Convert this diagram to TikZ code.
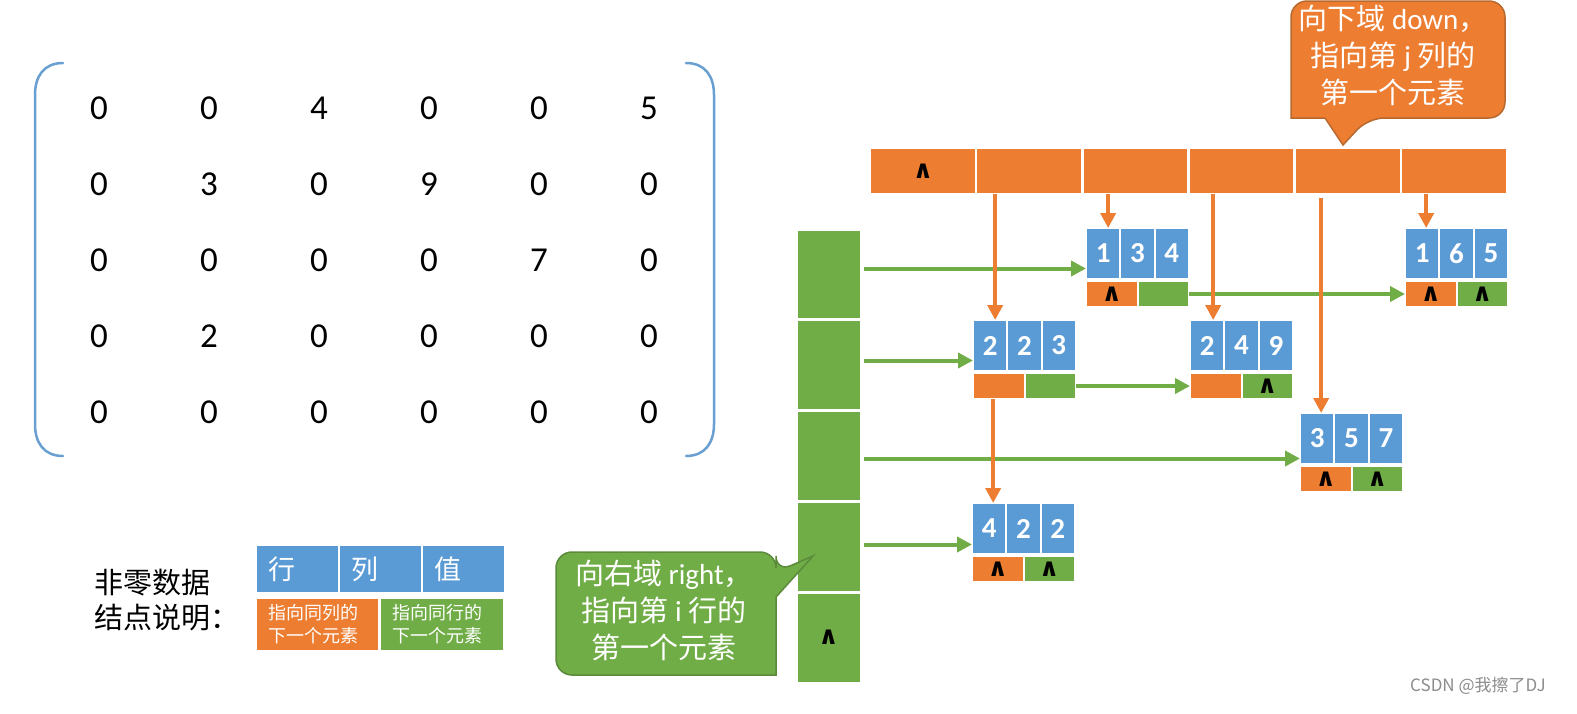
\documentclass[tikz,border=0pt]{standalone}
\usepackage{fontspec}
\setmainfont{Carlito}
\newfontfamily\cjk{Noto Sans CJK SC}
\newfontfamily\symf{DejaVu Sans}
\usetikzlibrary{arrows.meta,calc}
\definecolor{oblue}{HTML}{5B9BD5}
\definecolor{oorange}{HTML}{ED7D31}
\definecolor{ogreen}{HTML}{70AD47}
\definecolor{oodark}{HTML}{B8692F}
\definecolor{ogdark}{HTML}{5A8A3A}
\definecolor{brblue}{HTML}{6A9FD2}
\newcommand\nullmark{{\symf\bfseries\fontsize{25}{25}\selectfont ∧}}
\newcommand\olnode[8]{%
  \node[vcell] (#1-r) at (#2,#3) {#4};
  \node[vcell] (#1-c) at (#2+34.33,#3) {#5};
  \node[vcell] (#1-v) at (#2+68.67,#3) {#6};
  \node[dcell] (#1-d) at (#2,#3+53) {#7};
  \node[rcell] (#1-rt) at (#2+51.5,#3+53) {#8};
}
\tikzset{
  vcell/.style={draw=white, line width=2pt, fill=oblue, minimum width=34.33pt, minimum height=51pt,
    inner sep=0pt, outer sep=0pt, anchor=north west, text=white, font=\fontsize{29}{29}\selectfont\bfseries},
  dcell/.style={draw=white, line width=2pt, fill=oorange, minimum width=51.5pt, minimum height=26pt,
    inner sep=0pt, outer sep=0pt, anchor=north west, text=black},
  rcell/.style={dcell, fill=ogreen},
  hcell/.style={draw=white, line width=2.5pt, fill=oorange, minimum width=106.17pt, minimum height=46pt,
    inner sep=0pt, outer sep=0pt, anchor=north west, text=black},
  gcell/.style={draw=white, line width=3pt, fill=ogreen, minimum width=65pt, minimum height=90.8pt,
    inner sep=0pt, outer sep=0pt, anchor=north west, text=black},
  oarr/.style={draw=oorange, line width=4pt, -{Triangle[length=15pt,width=15pt]}},
  garr/.style={draw=ogreen, line width=4pt, -{Triangle[length=15pt,width=15pt]}},
  mval/.style={font=\fontsize{35}{35}\selectfont, inner sep=0pt},
  bracket/.style={draw=brblue, line width=2.5pt, line cap=round},
  lgtop/.style={draw=white, line width=2pt, fill=oblue, minimum height=48pt, inner xsep=12pt, text width=59pt,
    align=left, outer sep=0pt, anchor=north west, text=white, font=\cjk\fontsize{27}{27}\selectfont},
  lgbot/.style={draw=white, line width=2pt, minimum height=53pt, inner xsep=12pt, text width=99pt,
    align=left, outer sep=0pt, anchor=north west, text=white, font=\cjk\fontsize{18}{23}\selectfont},
  calltext/.style={align=center, text=white, inner sep=0pt, font=\cjk\fontsize{29}{37}\selectfont},
}
\begin{document}
\begin{tikzpicture}[x=1pt,y=-1pt]
\useasboundingbox (0,0) rectangle (1577,713);
\fill[white] (0,0) rectangle (1577,713);

% matrix
\foreach \row [count=\r] in {{0,0,4,0,0,5},{0,3,0,9,0,0},{0,0,0,0,7,0},{0,2,0,0,0,0},{0,0,0,0,0,0}}{
  \foreach \v [count=\c] in \row {
    \node[mval] (m\r\c) at ({99+(\c-1)*110},{108+(\r-1)*76}) {\v};
  }
}
\draw[bracket] (63,63) .. controls (44,63) and (35,76) .. (35,95) -- (35,424) .. controls (35,443) and (44,456) .. (63,456);
\draw[bracket] (686,63) .. controls (705,63) and (714,76) .. (714,95) -- (714,424) .. controls (714,443) and (705,456) .. (686,456);

% header (column heads)
\node[hcell] (h1) at (870,148) {\nullmark};
\foreach \i in {2,...,6} \node[hcell] (h\i) at ({870+(\i-1)*106.17},148) {};

% row heads
\foreach \i in {1,...,4} \node[gcell] (g\i) at (796,{229+(\i-1)*90.8}) {};
\node[gcell] (g5) at (796,{229+4*90.8}) {\nullmark};

% element nodes
\olnode{n134}{1086}{228}{1}{3}{4}{\nullmark}{}
\olnode{n165}{1405}{228}{1}{6}{5}{\nullmark}{\nullmark}
\olnode{n223}{973}{320}{2}{2}{3}{}{}
\olnode{n249}{1190}{320}{2}{4}{9}{}{\nullmark}
\olnode{n357}{1300}{413}{3}{5}{7}{\nullmark}{\nullmark}
\olnode{n422}{972}{503}{4}{2}{2}{\nullmark}{\nullmark}

% green (right) pointers
\coordinate (e134) at ([yshift=-15pt]n134-r.west);
\coordinate (e223) at ([yshift=-15pt]n223-r.west);
\coordinate (e357) at ([yshift=-20pt]n357-r.west);
\coordinate (e422) at ([yshift=-16pt]n422-r.west);
\draw[garr, shorten <=3pt] (g1.east |- e134) -- (e134);
\draw[garr, shorten <=3pt] (g2.east |- e223) -- (e223);
\draw[garr, shorten <=3pt] (g3.east |- e357) -- (e357);
\draw[garr, shorten <=3pt] (g4.east |- e422) -- (e422);
\draw[garr] (n134-rt.east) -- (n134-rt.east -| n165-d.west);
\draw[garr] (n223-rt.east) -- (n223-rt.east -| n249-d.west);

% orange (down) pointers
\coordinate (t223) at ([xshift=5pt]n223-r.north);
\coordinate (t134) at ([xshift=5pt]n134-r.north);
\coordinate (t249) at ([xshift=6pt]n249-r.north);
\coordinate (t357) at ([xshift=4pt]n357-r.north);
\coordinate (t165) at ([xshift=4pt]n165-r.north);
\coordinate (t422) at ([xshift=4pt]n422-r.north);
\draw[oarr] (h2.south -| t223) -- (t223);
\draw[oarr] (h3.south -| t134) -- (t134);
\draw[oarr] (h4.south -| t249) -- (t249);
\draw[oarr, shorten <=4pt] (h5.south -| t357) -- (t357);
\draw[oarr] (h6.south -| t165) -- (t165);
\draw[oarr] (n223-d.south -| t422) -- (t422);

% callout: down
\path[fill=oorange, draw=oodark, line width=1.5pt]
  (1398,1) [rounded corners=16pt] -- (1505,1) -- (1505,118) -- (1368,118) [sharp corners] -- (1343,145)
  -- (1325,118) -- (1291,118) [rounded corners=16pt] -- (1291,1) -- cycle;
\node[calltext] (cdown) at (1393,55) {向下域 {\rmfamily down}，\\指向第 {\rmfamily j} 列的\\第一个元素};

% callout: right
\path[fill=ogreen, draw=ogdark, line width=1.5pt]
  (666,552) [rounded corners=16pt] -- (776,552) -- (776,572) [sharp corners] -- (813,556) -- (776,597)
  -- (776,675) [rounded corners=16pt] -- (556,675) -- (556,552) -- cycle;
\node[calltext] (cright) at (664,610) {向右域 {\rmfamily right}，\\指向第 {\rmfamily i} 行的\\第一个元素};

% legend
\node[anchor=west, align=left, inner sep=0pt, font=\cjk\fontsize{29}{35}\selectfont] (lgl) at (94,600) {非零数据\\结点说明：};
\node[lgtop] (lg1) at (256,545) {行};
\node[lgtop] (lg2) at (339,545) {列};
\node[lgtop] (lg3) at (422,545) {值};
\node[lgbot, fill=oorange] (lg4) at (256,598) {指向同列的\\下一个元素};
\node[lgbot, fill=ogreen, text width=100pt] (lg5) at (380,598) {指向同行的\\下一个元素};

% watermark
\node[anchor=west, inner sep=0pt, text=black!45, font=\cjk\fontsize{17}{17}\selectfont] (wm) at (1410,686) {CSDN @我擦了DJ};
\end{tikzpicture}
\end{document}
